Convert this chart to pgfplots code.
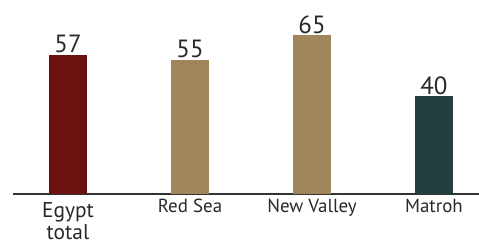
\documentclass[border=0pt]{standalone}
\usepackage{pgfplots}
\pgfplotsset{compat=1.18}
\usepackage{fontspec}
\setmainfont{PT Sans}
\definecolor{egred}{RGB}{107,17,15}
\definecolor{sand}{RGB}{160,134,90}
\definecolor{teal2}{RGB}{36,64,62}
\definecolor{txt}{RGB}{40,40,40}
\newcommand\egfont{\fontsize{21.5}{21.5}\selectfont}
\begin{document}
\begin{tikzpicture}
\useasboundingbox (0,0) rectangle (479bp,241bp);
\begin{axis}[
  at={(13bp,47bp)}, anchor=south west,
  scale only axis, width=466bp, height=194bp,
  xmin=-0.451, xmax=3.369, ymin=0, ymax=79.5,
  /pgf/number format/assume math mode=true,
  axis x line=bottom, axis y line=none,
  x axis line style={-, line width=2bp, color=txt!95},
  ytick=\empty,
  xtick={0,1,2,3},
  xticklabels={{\egfont\rule{0pt}{18.5bp}Egypt\\\egfont total},Red Sea,New Valley,Matroh},
  xticklabel style={font=\fontsize{19}{22}\selectfont, align=center, anchor=north, text=txt, inner sep=0pt, yshift=-5bp},
  major tick length=0pt,
  ybar, bar width=38bp, bar shift=0pt,
  nodes near coords,
  nodes near coords style={font=\fontsize{25}{25}\selectfont, anchor=base, yshift=2bp, text=txt},
  clip=false,
]
\addplot[fill=egred, draw=none] coordinates {(0,57)};
\addplot[fill=sand, draw=none] coordinates {(1,55)};
\addplot[fill=sand, draw=none] coordinates {(2,65)};
\addplot[fill=teal2, draw=none] coordinates {(3,40)};
\end{axis}
\end{tikzpicture}
\end{document}
